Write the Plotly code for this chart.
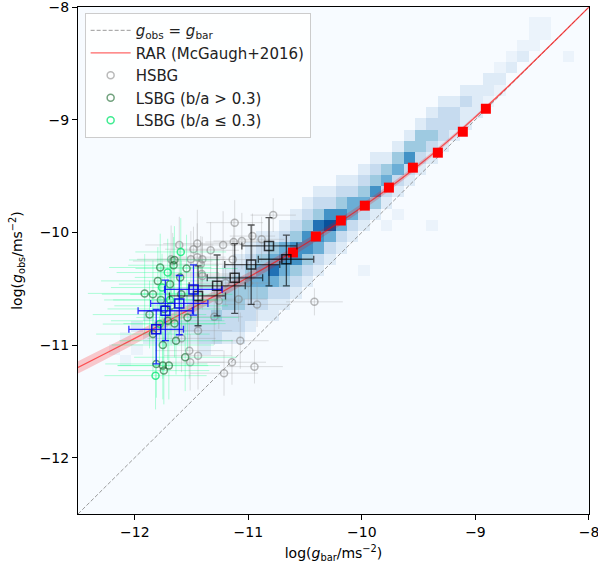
import numpy as np
import plotly.graph_objects as go

# ---------------- data ----------------
# 2D histogram (0.1 dex bins) : column centre, lowest y-bin centre, levels upward
hist_col_x = [-12.18, -12.08, -11.98, -11.88, -11.78, -11.68, -11.58, -11.48, -11.38, -11.28,
              -11.18, -11.08, -10.98, -10.88, -10.78, -10.68, -10.58, -10.48, -10.38, -10.28,
              -10.18, -10.08, -9.98, -9.88, -9.78, -9.68, -9.58, -9.48, -9.38, -9.28,
              -9.18, -9.08, -8.98, -8.88, -8.78, -8.68, -8.58, -8.48, -8.38, -8.18]
hist_col_y0 = [-11.04, -11.14, -11.04, -10.94, -10.94, -10.94, -10.94, -10.94, -11.04, -10.94,
               -10.94, -10.94, -10.84, -10.74, -10.74, -10.64, -10.54, -10.44, -10.34, -10.24,
               -10.14, -10.04, -10.34, -9.84, -9.94, -9.84, -9.54, -9.44, -9.94, -9.24,
               -9.14, -9.04, -8.94, -8.84, -8.74, -8.54, -8.44, -8.34, -8.24, -8.44]
hist_col_n = [
    [0.5], [0.5, 0, 0.5], [0.5, 0, 1], [1, 0, 1], [1, 1, 0, 1], [1, 1, 1, 0, 0.5],
    [1, 2, 1, 1, 1], [1, 2, 2, 2, 1], [1, 2, 2, 2, 2, 1, 1], [2, 2, 3, 2, 2, 1],
    [1, 2, 2, 3, 3, 2, 1], [1, 2, 2, 3, 3, 3, 2, 1], [1, 2, 2, 3, 4, 3, 2, 1],
    [1, 2, 3, 4, 4, 3, 2, 1], [1, 1, 2, 4, 6, 4, 3, 1], [1, 2, 3, 4, 5, 4, 2, 1],
    [1, 2, 3, 5, 5, 3, 2, 1], [1, 2, 3, 5, 5, 3, 2, 1], [1, 2, 4, 5, 6, 3, 2, 1],
    [1, 2, 4, 7, 5, 2, 1], [1, 2, 4, 5, 3, 2, 1], [1, 2, 4, 4, 2, 1],
    [0.5, 0, 0, 0, 1, 2, 4, 3, 2, 1], [1, 3, 5, 3, 2, 1], [0.5, 0, 1, 2, 4, 3, 1],
    [0.5, 0, 1, 2, 4, 3, 1], [1, 2, 5, 3, 1], [1, 2, 3, 3, 1],
    [0.5, 0, 0, 0, 0, 0, 1, 2, 3, 2, 1], [1, 2, 2, 2, 1], [1, 2, 2, 1], [1, 1, 2, 1],
    [1, 1, 1], [0.5, 1, 1], [0.5, 1, 0.5], [1, 0.5], [1, 0.5], [0.5, 0.5, 0.5],
    [0.5, 0.5], [0.5]]

# RAR (McGaugh+2016) curve and its band
rar_x = [-12.5, -12.25, -12.0, -11.75, -11.5, -11.25, -11.0, -10.75, -10.5, -10.25,
         -10.0, -9.75, -9.5, -9.25, -9.0, -8.75, -8.5, -8.25, -8.0]
rar_y = [-11.199, -11.071, -10.941, -10.809, -10.675, -10.539, -10.399, -10.255, -10.104, -9.945,
         -9.777, -9.598, -9.405, -9.197, -8.975, -8.741, -8.497, -8.250, -8.0]
rar_band = [0.055, 0.053, 0.05, 0.048, 0.046, 0.044, 0.042, 0.04, 0.037, 0.034,
            0.03, 0.026, 0.022, 0.018, 0.014, 0.01, 0.007, 0.005, 0.004]

# binned RAR of the reference sample (red squares)
ref_x = [-10.607, -10.405, -10.185, -9.974, -9.762, -9.551, -9.331, -9.111, -8.908]
ref_y = [-10.179, -10.037, -9.895, -9.763, -9.603, -9.426, -9.293, -9.107, -8.903]

# HSBG individual points
hs_x = [-11.12, -10.781, -11.608, -11.449, -11.483, -11.332, -11.222, -11.129, -10.964, -11.138,
        -11.666, -10.923, -10.418, -11.26, -11.443, -11.071, -11.443, -11.512, -11.144, -10.946,
        -11.214, -11.588, -11.45, -11.41, -10.883, -11.057, -11.405, -11.506, -11.68, -11.405,
        -11.086, -11.419, -11.52, -11.20, -11.30, -11.0]
hs_y = [-9.914, -9.847, -10.112, -10.100, -10.150, -10.159, -10.112, -10.086, -10.033, -10.242,
        -10.255, -10.640, -10.617, -10.608, -10.873, -10.962, -11.095, -11.153, -11.153, -11.192,
        -11.250, -10.941, -10.22, -10.37, -10.062, -10.077, -10.239, -10.239, -10.239, -10.387,
        -10.593, -10.283, -11.05, -10.45, -10.75, -10.45]
hs_xerr = [0.25, 0.2, 0.3, 0.3, 0.25, 0.25, 0.2, 0.25, 0.2, 0.3,
           0.35, 0.3, 0.25, 0.2, 0.3, 0.25, 0.3, 0.3, 0.3, 0.25,
           0.3, 0.3, 0.25, 0.3, 0.2, 0.25, 0.25, 0.3, 0.3, 0.3,
           0.25, 0.25, 0.3, 0.25, 0.25, 0.2]
hs_yerr = [0.2, 0.15, 0.25, 0.3, 0.2, 0.25, 0.3, 0.2, 0.2, 0.2,
           0.25, 0.2, 0.12, 0.25, 0.3, 0.25, 0.3, 0.25, 0.2, 0.15,
           0.2, 0.3, 0.3, 0.25, 0.2, 0.25, 0.2, 0.25, 0.3, 0.3,
           0.2, 0.25, 0.25, 0.2, 0.25, 0.2]

# LSBG (b/a > 0.3)
ls1_x = [-11.776, -11.658, -11.544, -11.797, -11.913, -11.84, -11.68, -11.536, -11.637, -11.753,
         -11.84, -11.556, -11.81, -11.753, -11.70, -11.744, -11.71, -11.651, -11.69, -11.59,
         -11.74, -11.65, -11.87, -11.60, -11.77]
ls1_y = [-10.312, -10.292, -10.321, -10.431, -10.542, -10.549, -10.652, -10.755, -10.962, -11.0,
         -10.903, -11.109, -11.168, -11.183, -11.183, -11.227, -10.785, -10.245, -10.46, -10.55,
         -10.68, -10.81, -10.73, -10.40, -10.60]
ls1_xerr = [0.45, 0.4, 0.45, 0.5, 0.5, 0.45, 0.5, 0.45, 0.5, 0.45,
            0.5, 0.45, 0.45, 0.4, 0.45, 0.4, 0.5, 0.4, 0.45, 0.45,
            0.5, 0.45, 0.5, 0.4, 0.5]
ls1_yerr = [0.3, 0.25, 0.3, 0.3, 0.35, 0.3, 0.35, 0.3, 0.3, 0.3,
            0.35, 0.3, 0.3, 0.3, 0.3, 0.3, 0.35, 0.3, 0.3, 0.3,
            0.35, 0.3, 0.3, 0.3, 0.3]

# LSBG (b/a <= 0.3)
ls2_x = [-11.595, -11.71, -11.782, -11.817, -11.69, -11.76]
ls2_y = [-10.174, -10.357, -10.814, -11.272, -10.60, -10.49]
ls2_xerr = [0.4, 0.45, 0.5, 0.45, 0.5, 0.45]
ls2_yerr = [0.3, 0.3, 0.35, 0.3, 0.3, 0.3]

# binned HSBG (black squares) with asymmetric errors (lower, upper bounds)
bh_x = [-11.443, -11.275, -11.12, -10.975, -10.818, -10.665]
bh_y = [-10.564, -10.475, -10.404, -10.286, -10.121, -10.239]
bh_xlo = [-11.695, -11.521, -11.362, -11.208, -11.057, -10.912]
bh_xhi = [-11.201, -11.027, -10.874, -10.723, -10.572, -10.424]
bh_ylo = [-10.829, -10.741, -10.719, -10.64, -10.475, -10.475]
bh_yhi = [-10.298, -10.201, -10.10, -9.935, -9.87, -10.024]

# binned LSBG (blue squares)
bl_x = [-11.811, -11.73, -11.608, -11.483]
bl_y = [-10.861, -10.696, -10.631, -10.507]
bl_xlo = [-12.052, -11.971, -11.86, -11.738]
bl_xhi = [-11.571, -11.492, -11.356, -11.231]
bl_ylo = [-11.168, -10.962, -10.909, -10.735]
bl_yhi = [-10.684, -10.425, -10.383, -10.289]

tick_vals = [-12, -11, -10, -9, -8]
tick_text = ['−12', '−11', '−10', '−9', '−8']

# ---------------- build figure ----------------
xc = np.round(-12.48 + 0.1 * np.arange(46), 2)
yc = np.round(-12.44 + 0.1 * np.arange(46), 2)
z = np.zeros((len(yc), len(xc)))
for cx, y0, levels in zip(hist_col_x, hist_col_y0, hist_col_n):
    i = int(round((cx - xc[0]) / 0.1))
    j0 = int(round((y0 - yc[0]) / 0.1))
    for k, v in enumerate(levels):
        z[j0 + k, i] = v

blues = ['#f7fbff', '#deebf7', '#c6dbef', '#9ecae1', '#6baed6',
         '#4292c6', '#2171b5', '#08519c', '#08306b']
cscale = [[k / 8, c] for k, c in enumerate(blues)]

fig = go.Figure()
fig.add_trace(go.Heatmap(x=xc, y=yc, z=z, zmin=0, zmax=8, colorscale=cscale,
                         showscale=False, hoverinfo='skip'))

# 1:1 line
fig.add_trace(go.Scatter(x=[-12.5, -8], y=[-12.5, -8], mode='lines', legendgroup='a',
                         line=dict(color='rgba(130,130,130,0.8)', width=1, dash='4px,2px'),
                         name='<i>g</i><sub>obs</sub> = <i>g</i><sub>bar</sub>'))

# RAR band + line
rar_lo = [a - b for a, b in zip(rar_y, rar_band)]
rar_hi = [a + b for a, b in zip(rar_y, rar_band)]
fig.add_trace(go.Scatter(x=rar_x, y=rar_lo, mode='lines', line=dict(width=0, shape='spline'),
                         showlegend=False, hoverinfo='skip'))
fig.add_trace(go.Scatter(x=rar_x, y=rar_hi, mode='lines', line=dict(width=0, shape='spline'),
                         fill='tonexty', fillcolor='rgba(255,0,0,0.2)',
                         showlegend=False, hoverinfo='skip'))
fig.add_trace(go.Scatter(x=rar_x, y=rar_y, mode='lines', legendgroup='b',
                         line=dict(color='rgba(255,0,0,0.6)', width=1.3, shape='spline'),
                         name='RAR (McGaugh+2016)'))

# individual points
fig.add_trace(go.Scatter(
    x=hs_x, y=hs_y, mode='markers', name='HSBG', legendgroup='c',
    marker=dict(symbol='circle-open', size=7, color='rgba(130,130,130,0.55)', line=dict(width=1.5)),
    error_x=dict(type='data', array=hs_xerr, color='rgba(150,150,150,0.3)', thickness=1, width=0),
    error_y=dict(type='data', array=hs_yerr, color='rgba(150,150,150,0.3)', thickness=1, width=0)))
fig.add_trace(go.Scatter(
    x=ls1_x, y=ls1_y, mode='markers', name='LSBG (b/a > 0.3)', legendgroup='d',
    marker=dict(symbol='circle-open', size=7, color='rgba(20,100,40,0.6)', line=dict(width=1.5)),
    error_x=dict(type='data', array=ls1_xerr, color='rgba(0,255,127,0.3)', thickness=1, width=0),
    error_y=dict(type='data', array=ls1_yerr, color='rgba(0,255,127,0.3)', thickness=1, width=0)))
fig.add_trace(go.Scatter(
    x=ls2_x, y=ls2_y, mode='markers', name='LSBG (b/a ≤ 0.3)', legendgroup='e',
    marker=dict(symbol='circle-open', size=7, color='rgba(0,230,110,0.75)', line=dict(width=1.5)),
    error_x=dict(type='data', array=ls2_xerr, color='rgba(0,255,127,0.3)', thickness=1, width=0),
    error_y=dict(type='data', array=ls2_yerr, color='rgba(0,255,127,0.3)', thickness=1, width=0)))

# binned reference RAR
fig.add_trace(go.Scatter(x=ref_x, y=ref_y, mode='markers', showlegend=False,
                         marker=dict(symbol='square', size=10, color='red')))

# binned HSBG / LSBG
def add_binned(x, y, xlo, xhi, ylo, yhi, col, ecol):
    fig.add_trace(go.Scatter(
        x=x, y=y, mode='markers', showlegend=False,
        marker=dict(symbol='square-open', size=9, color=col, line=dict(width=1.5)),
        error_x=dict(type='data', symmetric=False,
                     array=[h - v for h, v in zip(xhi, x)],
                     arrayminus=[v - l for l, v in zip(xlo, x)],
                     color=ecol, thickness=1.3, width=3.5),
        error_y=dict(type='data', symmetric=False,
                     array=[h - v for h, v in zip(yhi, y)],
                     arrayminus=[v - l for l, v in zip(ylo, y)],
                     color=ecol, thickness=1.3, width=3.5)))

add_binned(bh_x, bh_y, bh_xlo, bh_xhi, bh_ylo, bh_yhi, 'rgba(0,0,0,0.75)', 'rgba(0,0,0,0.65)')
add_binned(bl_x, bl_y, bl_xlo, bl_xhi, bl_ylo, bl_yhi, 'rgba(0,0,230,0.9)', 'rgba(0,0,255,0.8)')

font = 'DejaVu Sans'
axis_common = dict(range=[-12.5, -7.9999], tickmode='array', tickvals=tick_vals,
                   ticktext=tick_text, ticklabeloverflow='allow',
                   showgrid=False, zeroline=False, automargin=False,
                   showline=True, mirror=True, linecolor='black', linewidth=1,
                   ticks='outside', ticklen=5, tickwidth=1, tickcolor='black',
                   tickfont=dict(family=font, size=14, color='black'))
fig.update_xaxes(**axis_common,
                 title=dict(text='log(<i>g</i><sub>bar</sub>/ms<sup>−2</sup>)',
                            font=dict(family=font, size=14, color='black'), standoff=9))
fig.update_yaxes(**axis_common,
                 title=dict(text='log(<i>g</i><sub>obs</sub>/ms<sup>−2</sup>)',
                            font=dict(family=font, size=14, color='black'), standoff=13))
fig.update_layout(
    width=598, height=572,
    margin=dict(l=78, r=9, t=7, b=58, autoexpand=False),
    paper_bgcolor='white', plot_bgcolor='#f7fbff',
    font=dict(family=font, size=14, color='black'),
    showlegend=True,
    legend=dict(x=0.013, y=0.988, xanchor='left', yanchor='top', traceorder='normal',
                bgcolor='rgba(255,255,255,0.85)', bordercolor='#cccccc', borderwidth=1,
                font=dict(family=font, size=15, color='#222'), tracegroupgap=2,
                itemwidth=40),
)
fig.write_html('out.html', config={'displayModeBar': False},
               post_script="document.body.style.margin='0';document.body.style.overflow='hidden';")
